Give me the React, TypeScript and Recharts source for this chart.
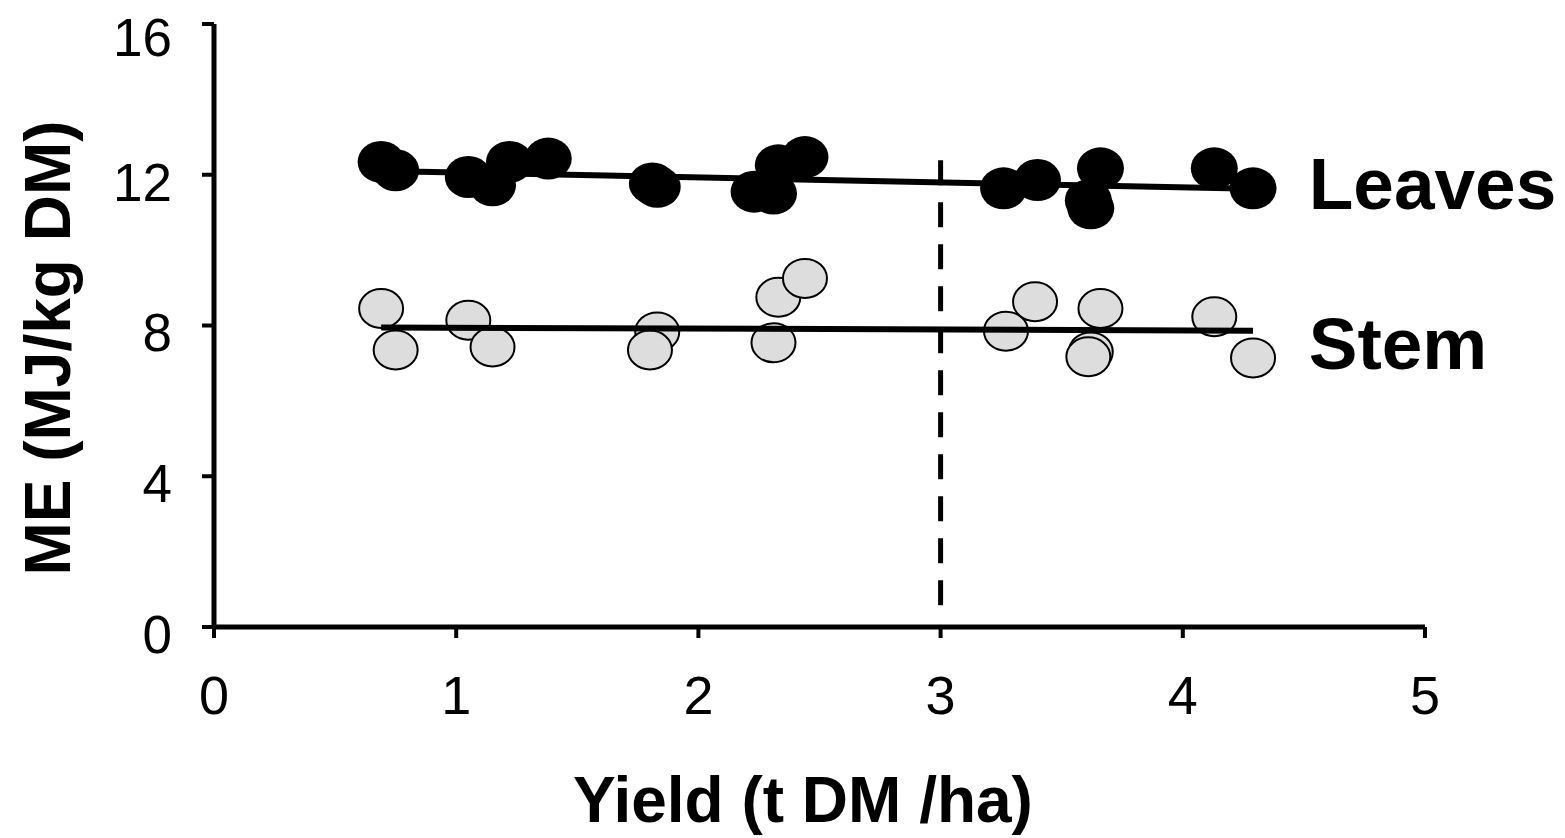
import React from "react"
import {
  ScatterChart,
  Scatter,
  XAxis,
  YAxis,
  ReferenceLine,
  ReferenceDot,
} from "recharts"

// Leaves (black points): yield (t DM/ha) and ME (MJ/kg DM)
const leavesYield = [0.69, 0.75, 1.05, 1.15, 1.22, 1.38, 1.81, 1.83, 2.23, 2.31, 2.33, 2.44, 3.26, 3.4, 3.66, 3.61, 3.62, 4.13, 4.29]
const leavesME = [12.34, 12.12, 11.94, 11.72, 12.34, 12.43, 11.77, 11.68, 11.55, 11.5, 12.25, 12.47, 11.64, 11.86, 12.17, 11.32, 11.11, 12.17, 11.64]

// Stem (grey points)
const stemYield = [0.69, 0.75, 1.05, 1.15, 1.83, 1.8, 2.33, 2.44, 2.31, 3.27, 3.39, 3.66, 3.62, 3.61, 4.13, 4.29]
const stemME = [8.45, 7.35, 8.14, 7.43, 7.83, 7.35, 8.75, 9.25, 7.54, 7.85, 8.63, 8.45, 7.3, 7.17, 8.23, 7.14]

// fitted lines (start / end)
const leavesFitX = [0.69, 4.29]
const leavesFitY = [12.1, 11.63]
const stemFitX = [0.69, 4.29]
const stemFitY = [7.95, 7.86]

// dashed marker at 3 t DM/ha
const cutX = 3
const cutY = [0.58, 12.52]

const xTicks = [0, 1, 2, 3, 4, 5]
const yTicks = [0, 4, 8, 12, 16]

const FONT = "'Liberation Sans', Arial, sans-serif"

const zip = (xs: number[], ys: number[]) => xs.map((x, i) => ({ x, y: ys[i] }))

const leaves = zip(leavesYield, leavesME)
const stem = zip(stemYield, stemME)
const leavesFit = zip(leavesFitX, leavesFitY)
const stemFit = zip(stemFitX, stemFitY)

const BlackDot = (props: any) => (
  <ellipse cx={props.cx} cy={props.cy} rx={23.5} ry={21} fill="#000" />
)

const GreyDot = (props: any) => (
  <ellipse cx={props.cx} cy={props.cy} rx={22} ry={19.5} fill="#dddddd" stroke="#000" strokeWidth={2} />
)

const NoDot = () => <g />

export default function App() {
  return (
    <div style={{ position: "absolute", left: 0, top: 0, width: 1565, height: 838, background: "#fff" }}>
      <ScatterChart width={1565} height={838} margin={{ top: 24, right: 140, left: 0, bottom: 0 }}>
        <XAxis
          type="number"
          dataKey="x"
          domain={[0, 5]}
          ticks={xTicks}
          height={211}
          axisLine={{ stroke: "#000", strokeWidth: 5 }}
          tickLine={{ stroke: "#000", strokeWidth: 4 }}
          tickSize={11}
          tickMargin={38}
          tick={{ fill: "#000", fontSize: 54, fontFamily: FONT }}
          label={{
            content: () => (
              <text x={803} y={822} textAnchor="middle" fontSize={64} fontWeight="bold" fontFamily={FONT} fill="#000">
                Yield (t DM /ha)
              </text>
            ),
          }}
        />
        <YAxis
          type="number"
          dataKey="y"
          domain={[0, 16]}
          ticks={yTicks}
          width={214}
          axisLine={{ stroke: "#000", strokeWidth: 5 }}
          tickLine={{ stroke: "#000", strokeWidth: 4 }}
          tickSize={12}
          tickMargin={30}
          tick={{ fill: "#000", fontSize: 53, fontFamily: FONT, dy: 7 }}
          label={{
            content: () => (
              <text
                x={48}
                y={348}
                transform="rotate(-90 48 348)"
                textAnchor="middle"
                dominantBaseline="central"
                fontSize={64}
                fontWeight="bold"
                fontFamily={FONT}
                fill="#000"
              >
                ME (MJ/kg DM)
              </text>
            ),
          }}
        />
        <ReferenceLine
          segment={[
            { x: cutX, y: cutY[0] },
            { x: cutX, y: cutY[1] },
          ]}
          stroke="#000"
          strokeWidth={5}
          strokeDasharray="25 17"
        />
        <Scatter data={stem} shape={GreyDot} isAnimationActive={false} />
        <Scatter data={leaves} shape={BlackDot} isAnimationActive={false} />
        <Scatter data={stemFit} line={{ stroke: "#000", strokeWidth: 6 }} shape={NoDot} isAnimationActive={false} />
        <Scatter data={leavesFit} line={{ stroke: "#000", strokeWidth: 6 }} shape={NoDot} isAnimationActive={false} />
        <ReferenceDot
          x={4.52}
          y={11.78}
          r={0}
          ifOverflow="visible"
          label={{ value: "Leaves", position: "right", offset: 0, fontSize: 73, fontWeight: "bold", fontFamily: FONT, fill: "#000" }}
        />
        <ReferenceDot
          x={4.52}
          y={7.53}
          r={0}
          ifOverflow="visible"
          label={{ value: "Stem", position: "right", offset: 0, fontSize: 73, fontWeight: "bold", fontFamily: FONT, fill: "#000" }}
        />
      </ScatterChart>
    </div>
  )
}
